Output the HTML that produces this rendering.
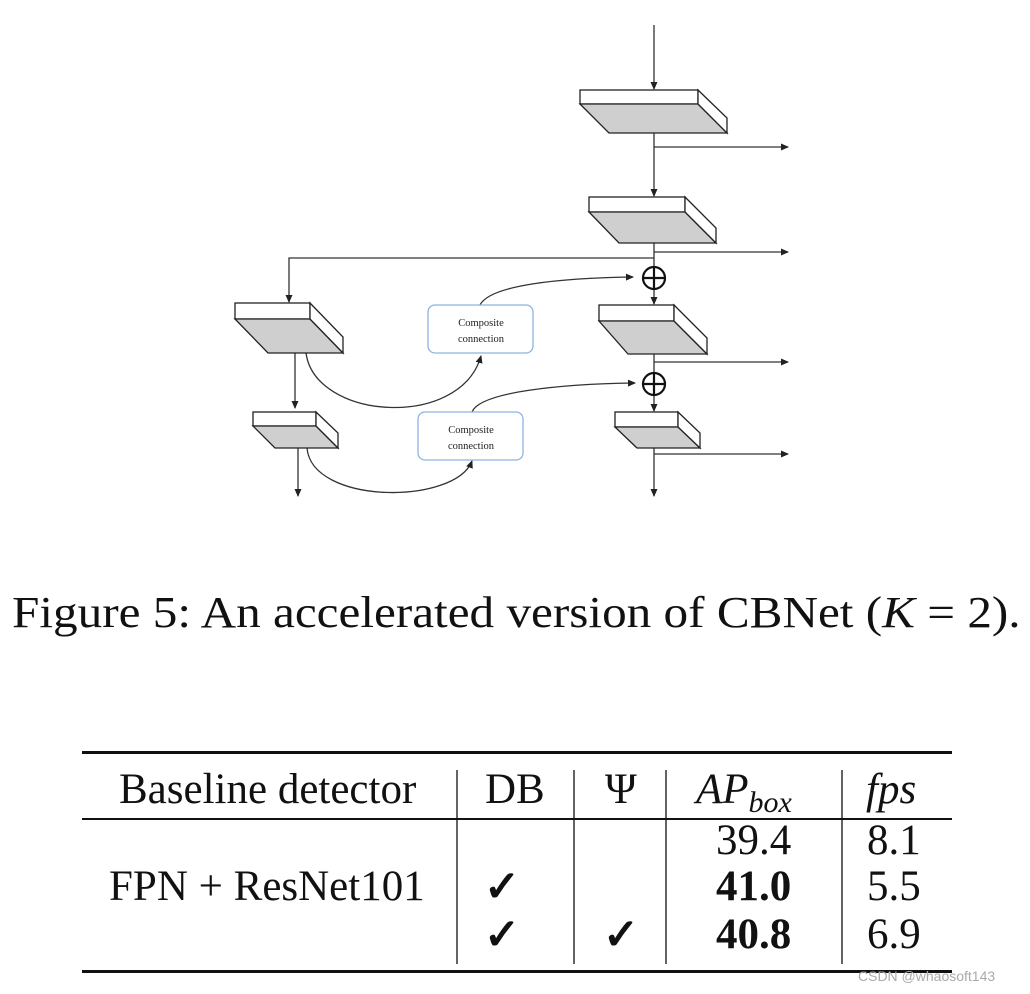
<!DOCTYPE html>
<html><head><meta charset="utf-8"><style>
html,body{margin:0;padding:0;background:#fff;}
body{width:1030px;height:994px;position:relative;overflow:hidden;font-family:"Liberation Serif",serif;}
.t{position:absolute;white-space:nowrap;color:#111;}
.r{font-size:43px;}
</style></head><body>
<svg width="1030" height="994" style="position:absolute;left:0;top:0" xmlns="http://www.w3.org/2000/svg">
<defs><marker id="a" markerWidth="8" markerHeight="8" refX="7" refY="4" orient="auto" markerUnits="userSpaceOnUse"><path d="M0,0.5 L8,4 L0,7.5z" fill="#222"/></marker></defs>
<g stroke="#333" stroke-width="1.3" fill="none">
<line x1="654" y1="25" x2="654" y2="89" marker-end="url(#a)"/>
<line x1="654" y1="133" x2="654" y2="196" marker-end="url(#a)"/>
<line x1="654" y1="243" x2="654" y2="266"/>
<line x1="654" y1="290" x2="654" y2="304" marker-end="url(#a)"/>
<line x1="654" y1="354" x2="654" y2="372"/>
<line x1="654" y1="396" x2="654" y2="411" marker-end="url(#a)"/>
<line x1="654" y1="448" x2="654" y2="496" marker-end="url(#a)"/>
<line x1="654" y1="147" x2="788" y2="147" marker-end="url(#a)"/>
<line x1="654" y1="252" x2="788" y2="252" marker-end="url(#a)"/>
<line x1="654" y1="362" x2="788" y2="362" marker-end="url(#a)"/>
<line x1="654" y1="454" x2="788" y2="454" marker-end="url(#a)"/>
<polyline points="654,258 289,258 289,302" marker-end="url(#a)"/>
<line x1="295" y1="353" x2="295" y2="408" marker-end="url(#a)"/>
<line x1="298" y1="448" x2="298" y2="496" marker-end="url(#a)"/>
<path d="M306,353 C315,420 460,430 481,356" marker-end="url(#a)"/>
<path d="M480,305 C490,285 560,278 633,277" marker-end="url(#a)"/>
<path d="M307,448 C312,505 455,505 472,461" marker-end="url(#a)"/>
<path d="M472,412 C480,392 560,384 635,383" marker-end="url(#a)"/>
</g>
<g stroke="#111" stroke-width="2.2" fill="#fff">
<circle cx="654" cy="278" r="11"/><line x1="643" y1="278" x2="665" y2="278"/><line x1="654" y1="267" x2="654" y2="289"/>
<circle cx="654" cy="384" r="11"/><line x1="643" y1="384" x2="665" y2="384"/><line x1="654" y1="373" x2="654" y2="395"/>
</g>
<g stroke="#222" stroke-width="1.3">
<rect x="580" y="90" width="118" height="14" fill="#fff"/><polygon points="580,104 698,104 727,133 609,133" fill="#cfcfcf"/><polygon points="698,90 727,118 727,133 698,104" fill="#fff"/>
<rect x="589" y="197" width="96" height="15" fill="#fff"/><polygon points="589,212 685,212 716,243 619,243" fill="#cfcfcf"/><polygon points="685,197 716,228 716,243 685,212" fill="#fff"/>
<rect x="599" y="305" width="75" height="16" fill="#fff"/><polygon points="599,321 674,321 707,354 628,354" fill="#cfcfcf"/><polygon points="674,305 707,338 707,354 674,321" fill="#fff"/>
<rect x="615" y="412" width="63" height="15" fill="#fff"/><polygon points="615,427 678,427 700,448 637,448" fill="#cfcfcf"/><polygon points="678,412 700,433 700,448 678,427" fill="#fff"/>
<rect x="235" y="303" width="75" height="16" fill="#fff"/><polygon points="235,319 310,319 343,353 268,353" fill="#cfcfcf"/><polygon points="310,303 343,337 343,353 310,319" fill="#fff"/>
<rect x="253" y="412" width="63" height="14" fill="#fff"/><polygon points="253,426 316,426 338,448 275,448" fill="#cfcfcf"/><polygon points="316,412 338,433 338,448 316,426" fill="#fff"/>
</g>
<g stroke="#8fb4e0" stroke-width="1.3" fill="#fff">
<rect x="428" y="305" width="105" height="48" rx="7"/>
<rect x="418" y="412" width="105" height="48" rx="7"/>
</g>
<g font-family="Liberation Serif,serif" font-size="10.5" fill="#222" text-anchor="middle">
<text x="481" y="326">Composite</text><text x="481" y="342">connection</text>
<text x="471" y="433">Composite</text><text x="471" y="449">connection</text>
</g>
<rect x="82" y="751" width="870" height="3" fill="#111"/>
<rect x="82" y="818" width="870" height="2" fill="#111"/>
<rect x="82" y="970" width="870" height="3" fill="#111"/>
<g stroke="#111" stroke-width="1.3">
<line x1="457" y1="770" x2="457" y2="964"/><line x1="574" y1="770" x2="574" y2="964"/>
<line x1="666" y1="770" x2="666" y2="964"/><line x1="842" y1="770" x2="842" y2="964"/>
</g>
</svg>
<div class="t" style="left:12px;top:587px;font-size:44px;transform:scaleX(1.118);transform-origin:0 0;">Figure 5: An accelerated version of CBNet (<i>K</i> = 2).</div>
<div class="t r" style="left:119px;top:765px;">Baseline detector</div>
<div class="t r" style="left:485px;top:765px;">DB</div>
<div class="t r" style="left:605px;top:765px;">Ψ</div>
<div class="t r" style="left:696px;top:765px;"><i>AP<sub style="font-size:30px;vertical-align:-9px">box</sub></i></div>
<div class="t r" style="left:866px;top:765px;"><i>fps</i></div>
<div class="t r" style="left:716px;top:816px;">39.4</div>
<div class="t r" style="left:867px;top:816px;">8.1</div>
<div class="t r" style="left:109px;top:862px;">FPN + ResNet101</div>
<div class="t r" style="left:484px;top:862px;font-weight:bold;">✓</div>
<div class="t r" style="left:716px;top:862px;font-weight:bold;">41.0</div>
<div class="t r" style="left:867px;top:862px;">5.5</div>
<div class="t r" style="left:484px;top:910px;font-weight:bold;">✓</div>
<div class="t r" style="left:603px;top:910px;font-weight:bold;">✓</div>
<div class="t r" style="left:716px;top:910px;font-weight:bold;">40.8</div>
<div class="t r" style="left:867px;top:910px;">6.9</div>
<div class="t" style="left:858px;top:968px;font-size:14px;color:#aaa;font-family:'Liberation Sans',sans-serif;">CSDN @whaosoft143</div>
</body></html>
